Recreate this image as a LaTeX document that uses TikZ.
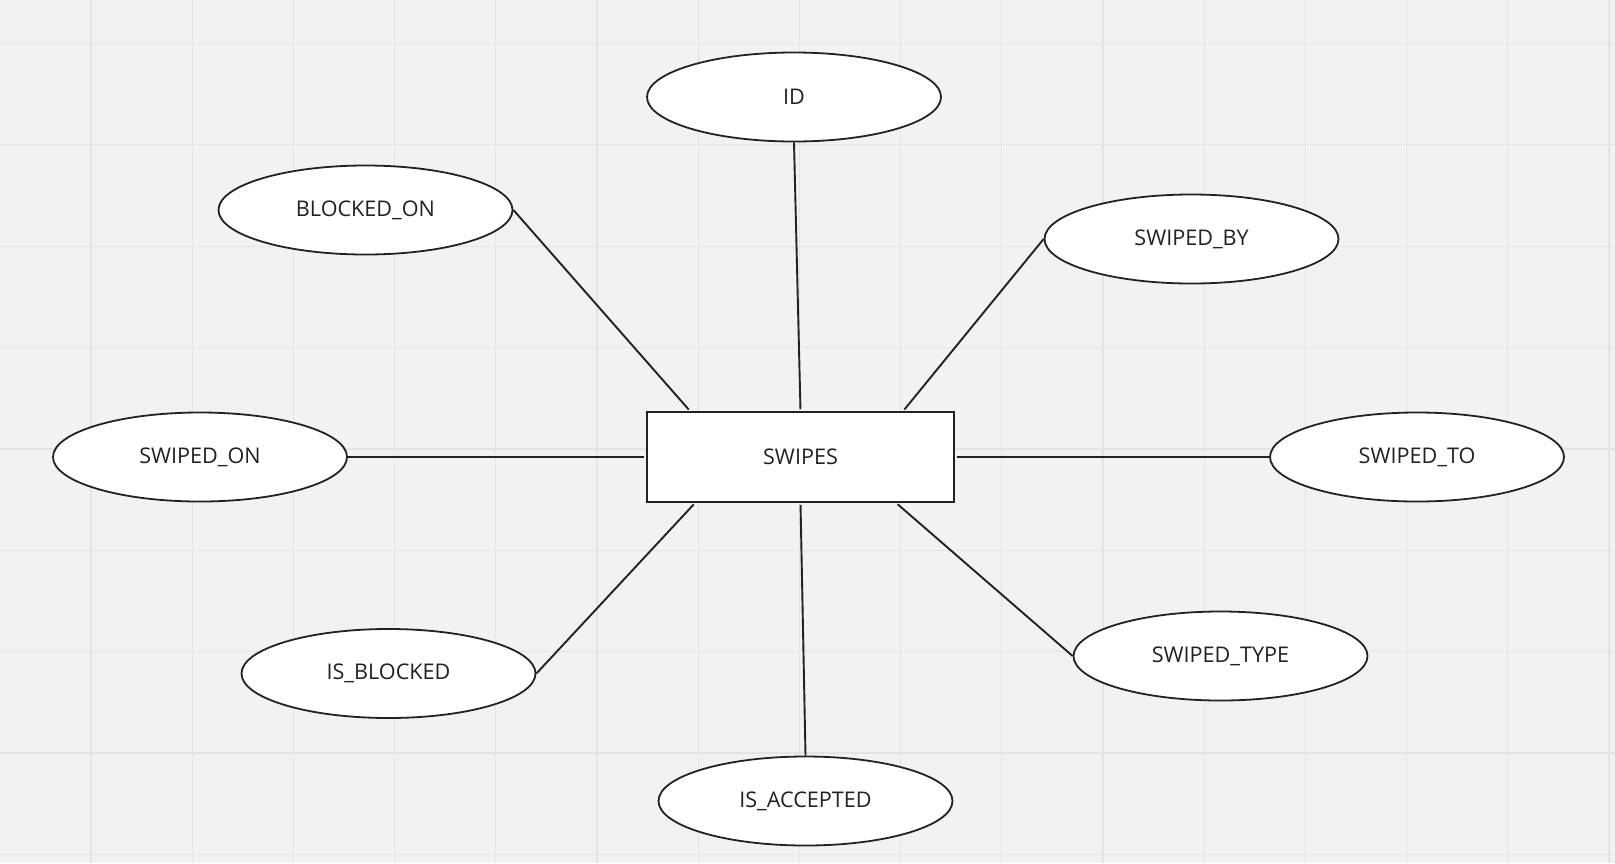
\documentclass[tikz,border=0pt]{standalone}
\usepackage{fontspec}
\setmainfont{Open Sans}
\usetikzlibrary{shapes.geometric}
\definecolor{board}{HTML}{F2F2F2}
\definecolor{gridc}{HTML}{E4E4E4}
\definecolor{ink}{HTML}{222222}
\begin{document}
\begin{tikzpicture}[x=0.5pt,y=-0.5pt,font=\fontsize{10.8}{13}\selectfont,text=ink]
  \fill[board] (0,0) rectangle (1615,863);
  \useasboundingbox (0,0) rectangle (1615,863);
  % board grid
  \foreach \i in {0,...,15} \draw[gridc,line width=0.6pt] (91+101.2*\i,0) -- (91+101.2*\i,863);
  \foreach \j in {0,...,8} \draw[gridc,line width=0.6pt] (0,43.5+101.35*\j) -- (1615,43.5+101.35*\j);
  \begin{scope}
    \tikzstyle{every node}=[draw=ink,fill=white,line width=0.9pt]
    \node[rectangle,minimum width=153.5pt,minimum height=45pt] (swipes) at (800.5,457) {SWIPES};
  \end{scope}
  \begin{scope}
    \tikzstyle{every node}=[ellipse,draw=ink,fill=white,line width=0.9pt,inner sep=0pt,minimum width=147pt,minimum height=44.5pt]
    \node (id)   at (794,97)     {ID};
    \node (blk)  at (365.5,210)  {BLOCKED\_ON};
    \node (by)   at (1191.5,239) {SWIPED\_BY};
    \node (on)   at (200,457)    {SWIPED\_ON};
    \node (to)   at (1417,457)   {SWIPED\_TO};
    \node (isb)  at (388.5,673.5){IS\_BLOCKED};
    \node (type) at (1220.5,656) {SWIPED\_TYPE};
    \node (acc)  at (805.5,801)  {IS\_ACCEPTED};
  \end{scope}
  \coordinate (t1) at ([xshift=22pt]swipes.north west);
  \coordinate (t3) at ([xshift=128.5pt]swipes.north west);
  \coordinate (b1) at ([xshift=24.5pt]swipes.south west);
  \coordinate (b3) at ([xshift=125pt]swipes.south west);
  \draw[ink,line width=0.95pt,shorten >=1pt] (id.south) -- (swipes.north);
  \draw[ink,line width=0.95pt,shorten >=1pt] (blk.east) -- (t1);
  \draw[ink,line width=0.95pt,shorten >=1pt] (by.west) -- (t3);
  \draw[ink,line width=0.95pt,shorten >=1pt] (on.east) -- (swipes.west);
  \draw[ink,line width=0.95pt,shorten >=1pt] (to.west) -- (swipes.east);
  \draw[ink,line width=0.95pt,shorten >=1pt] (isb.east) -- (b1);
  \draw[ink,line width=0.95pt,shorten >=1pt] (acc.north) -- (swipes.south);
  \draw[ink,line width=0.95pt,shorten >=1pt] (type.west) -- (b3);
\end{tikzpicture}
\end{document}
